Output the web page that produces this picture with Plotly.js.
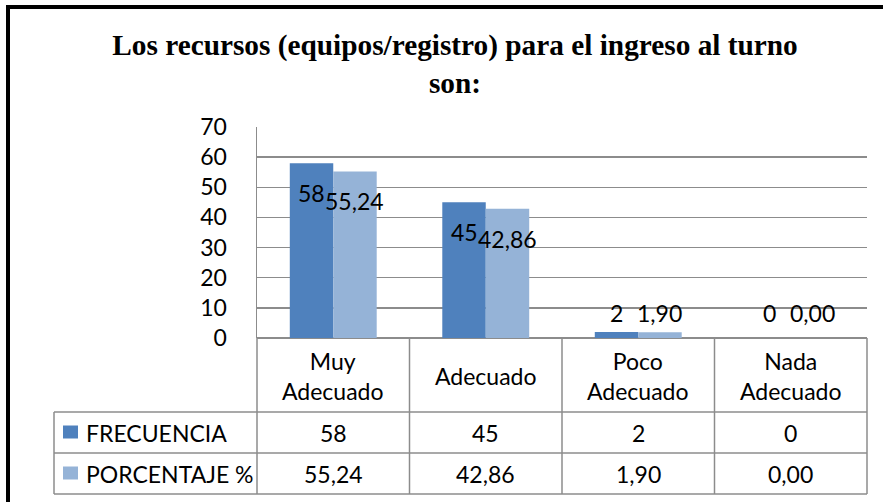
<!DOCTYPE html>
<html>
<head>
<meta charset="utf-8">
<script src="https://cdn.plot.ly/plotly-3.0.1.min.js"></script>
<style>html,body{margin:0;padding:0;background:#fff}#chart{width:883px;height:502px}</style>
</head>
<body>
<div id="chart"></div>
<script>
const categories = ["Muy Adecuado", "Adecuado", "Poco Adecuado", "Nada Adecuado"];
const categoryLabels = ["Muy<br>Adecuado", "Adecuado", "Poco<br>Adecuado", "Nada<br>Adecuado"];
const seriesNames = ["FRECUENCIA", "PORCENTAJE %"];
const frecuencia = [58, 45, 2, 0];
const porcentaje = [55.24, 42.86, 1.90, 0.00];
const frecuenciaText = ["58", "45", "2", "0"];
const porcentajeText = ["55,24", "42,86", "1,90", "0,00"];
const yTicks = [0, 10, 20, 30, 40, 50, 60, 70];

const colors = ["#4f81bd", "#95b3d7"];
const W = 883, H = 502;
const L = 257, R = 867, T = 127, B = 338;
const pw = R - L, ph = B - T;
const px = x => (x - L) / pw;
const py = y => (B - y) / ph;
const bargap = 0.43;
const lineColor = "#8c8c8c";
const font = "Lato, 'Open Sans', sans-serif";
const fs = 23;

const traces = [
  {type: "bar", name: seriesNames[0], x: categories, y: frecuencia, marker: {color: colors[0]}, hoverinfo: "none"},
  {type: "bar", name: seriesNames[1], x: categories, y: porcentaje, marker: {color: colors[1]}, hoverinfo: "none"}
];

const annotations = [];
const shapes = [];
const seriesVals = [frecuencia, porcentaje];
const seriesTxt = [frecuenciaText, porcentajeText];
const off = (1 - bargap) / 4;
seriesVals.forEach((vals, s) => {
  vals.forEach((v, i) => {
    const big = v > 10;
    annotations.push({
      xref: "x", yref: "y", x: i + (s === 0 ? -off : off), y: big ? v : 2,
      yshift: big ? -30 : 19, text: seriesTxt[s][i], showarrow: false,
      font: {family: font, size: fs, color: "#000"}, xanchor: "center", yanchor: "middle"
    });
  });
});

// table: category row
categoryLabels.forEach((c, i) => {
  annotations.push({xref: "paper", yref: "paper", x: px(L + pw / 4 * (i + 0.5)), y: py(376),
    text: c, showarrow: false, font: {family: font, size: fs, color: "#000"}, xanchor: "center", yanchor: "middle"});
});
// value rows
const rowY = [432.5, 473.5];
seriesTxt.forEach((txt, s) => {
  txt.forEach((t, i) => {
    annotations.push({xref: "paper", yref: "paper", x: px(L + pw / 4 * (i + 0.5)), y: py(rowY[s]),
      text: t, showarrow: false, font: {family: font, size: fs, color: "#000"}, xanchor: "center", yanchor: "middle"});
  });
  annotations.push({xref: "paper", yref: "paper", x: px(84), y: py(rowY[s]),
    text: seriesNames[s], showarrow: false, font: {family: font, size: fs, color: "#000"}, xanchor: "left", yanchor: "middle"});
  shapes.push({type: "rect", xref: "paper", yref: "paper", x0: px(63), x1: px(78), y0: py(rowY[s] - 7), y1: py(rowY[s] + 6),
    fillcolor: colors[s], line: {width: 0}});
});
// table lines
const hl = (y, x0, x1, c, w) => shapes.push({type: "line", xref: "paper", yref: "paper", x0: px(x0), x1: px(x1), y0: py(y), y1: py(y), line: {color: c || lineColor, width: w || 1.5}});
const vl = (x, y0, y1, c, w) => shapes.push({type: "line", xref: "paper", yref: "paper", x0: px(x), x1: px(x), y0: py(y0), y1: py(y1), line: {color: c || lineColor, width: w || 1.5}});
hl(412, 54, R); hl(453, 54, R); hl(494, 54, R);
for (let i = 0; i <= 4; i++) vl(L + pw / 4 * i, B, 494);
vl(54, 412, 494);
// outer border (top & left visible)
hl(7, 6, W, "#000", 4);
vl(8, 5, H, "#000", 4);

const layout = {
  width: W, height: H,
  margin: {l: L, r: W - R, t: T, b: H - B, pad: 0},
  paper_bgcolor: "#fff", plot_bgcolor: "#fff",
  showlegend: false,
  barmode: "group", bargap: bargap, bargroupgap: 0,
  title: {text: "Los recursos (equipos/registro) para el ingreso al turno<br>son:",
    font: {family: "'Liberation Serif', 'Times New Roman', serif", size: 29.3, color: "#000", weight: "bold"},
    xref: "container", x: 455 / W, xanchor: "center", yref: "container", y: 1 - 55 / H, yanchor: "top"},
  xaxis: {type: "category", showticklabels: false, showgrid: false, zeroline: false, showline: false, ticks: "", fixedrange: true},
  yaxis: {range: [0, 70], tickvals: yTicks, ticktext: yTicks.map(String), showgrid: true, gridcolor: lineColor, gridwidth: 1.3,
    zeroline: true, zerolinecolor: lineColor, zerolinewidth: 1.5, showline: true, linecolor: lineColor, linewidth: 1.5,
    ticks: "", ticklabelstandoff: 24, tickfont: {family: font, size: fs, color: "#000"}, fixedrange: true},
  annotations: annotations, shapes: shapes
};

Plotly.newPlot("chart", traces, layout, {displayModeBar: false, staticPlot: true});
</script>
</body>
</html>
